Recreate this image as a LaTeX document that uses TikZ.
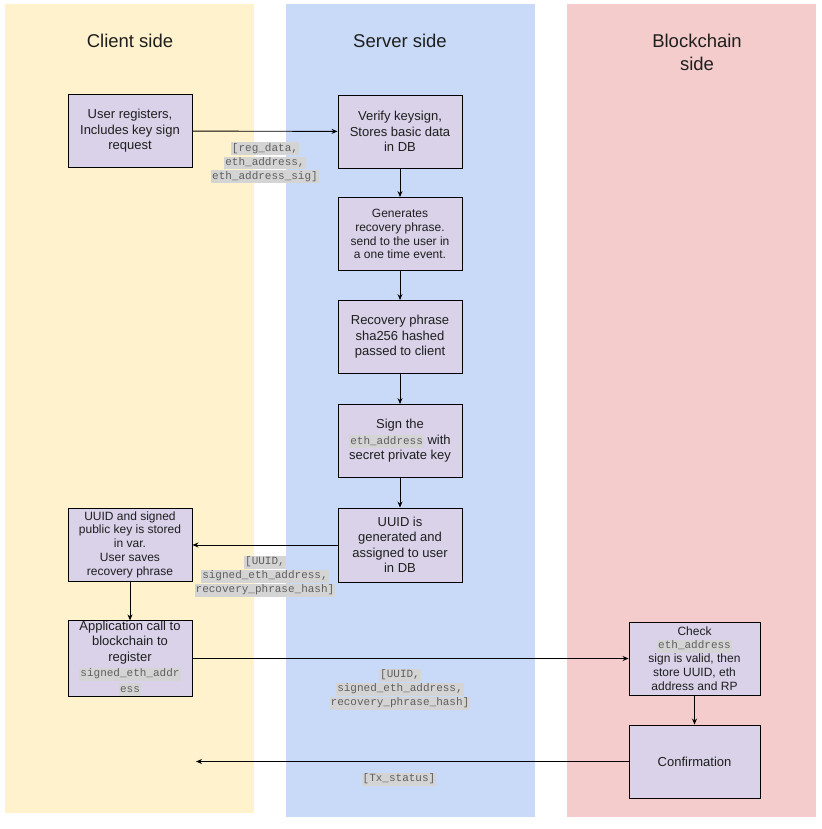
\documentclass[tikz,border=0pt]{standalone}
\usepackage{fontspec}
\setmainfont{Liberation Sans}
\setmonofont{Liberation Mono}
\usetikzlibrary{arrows.meta}
\definecolor{colY}{RGB}{255,242,204}
\definecolor{colB}{RGB}{201,218,248}
\definecolor{colP}{RGB}{244,204,204}
\definecolor{boxfill}{RGB}{217,210,233}
\definecolor{codebg}{RGB}{212,212,212}
\definecolor{codefg}{RGB}{95,95,95}
\definecolor{txt}{RGB}{30,30,30}
\newcommand\cd[1]{{\ttfamily\fontsize{11}{13}\selectfont\setlength{\fboxsep}{0pt}\colorbox{codebg}{\hspace{1pt}\strut\textcolor{codefg}{#1}\hspace{1pt}}}}
\tikzset{
  stepbox/.style={draw=black, fill=boxfill, line width=0.9pt, minimum width=124pt, minimum height=73pt, inner sep=0pt, align=center, text=txt, font=\fontsize{13}{15.5}\selectfont},
  smallbox/.style={stepbox, font=\fontsize{12}{13.8}\selectfont},
  title/.style={align=center, text=txt, font=\fontsize{18.5}{22.5}\selectfont},
  codelabel/.style={align=center, inner sep=0pt},
  conn/.style={line width=0.9pt, -{Stealth[length=6pt,width=5pt]}}
}
\begin{document}
\begin{tikzpicture}[x=1pt,y=-1pt]
\useasboundingbox (0,0) rectangle (821,829);
% columns
\fill[colY] (5,4) rectangle (254,813);
\fill[colB] (286,4) rectangle (535,817);
\fill[colP] (567,4) rectangle (816,817);
% titles
\node[title] (t1) at (130,41) {Client side};
\node[title] (t2) at (400,41) {Server side};
\node[title] (t3) at (697,52.5) {Blockchain\\side};
% boxes
\node[stepbox] (A) at (130,131) {User registers,\\Includes key sign\\request};
\node[stepbox] (B) at (400,131.5) {Verify keysign,\\Stores basic data\\in DB};
\node[smallbox] (C) at (400,234) {Generates\\recovery phrase.\\send to the user in\\a one time event.};
\node[stepbox] (D) at (400,337) {Recovery phrase\\sha256 hashed\\passed to client};
\node[stepbox] (E) at (400,441) {Sign the\\\cd{eth\_address} with\\secret private key};
\node[stepbox, minimum height=74pt] (F) at (400,545) {UUID is\\generated and\\assigned to user\\in DB};
\node[smallbox] (G) at (130,544.5) {UUID and signed\\public key is stored\\in var.\\User saves\\recovery phrase};
\node[stepbox] (H) at (130,658.5) {Application call to\\blockchain to\\register\\\cd{signed\_eth\_addr}\\\cd{ess}};
\node[smallbox, minimum width=131pt] (I) at (694.5,658.5) {Check\\\cd{eth\_address}\\sign is valid, then\\store UUID, eth\\address and RP};
\node[stepbox, minimum width=131pt] (J) at (694.5,761.5) {Confirmation};
\coordinate (Jend) at (196,761.5);
% connectors
\draw[conn] (A) -- (B);
\draw[conn] (B) -- (C);
\draw[conn] (C) -- (D);
\draw[conn] (D) -- (E);
\draw[conn] (E) -- (F);
\draw[conn] (F.west) -- (G.east |- F.west);
\draw[conn] (G) -- (H);
\draw[conn] (H) -- (H -| I.west);
\draw[conn] (I) -- (J);
\draw[conn] (J.west) -- (Jend);
% labels
\node[codelabel] (L1) at (265,163) {\cd{[reg\_data,}\\\cd{eth\_address,}\\\cd{eth\_address\_sig]}};
\node[codelabel] (L2) at (265,576) {\cd{[UUID,}\\\cd{signed\_eth\_address,}\\\cd{recovery\_phrase\_hash]}};
\node[codelabel] (L3) at (400,689) {\cd{[UUID,}\\\cd{signed\_eth\_address,}\\\cd{recovery\_phrase\_hash]}};
\node[codelabel] (L4) at (399,779) {\cd{[Tx\_status]}};
\end{tikzpicture}
\end{document}
